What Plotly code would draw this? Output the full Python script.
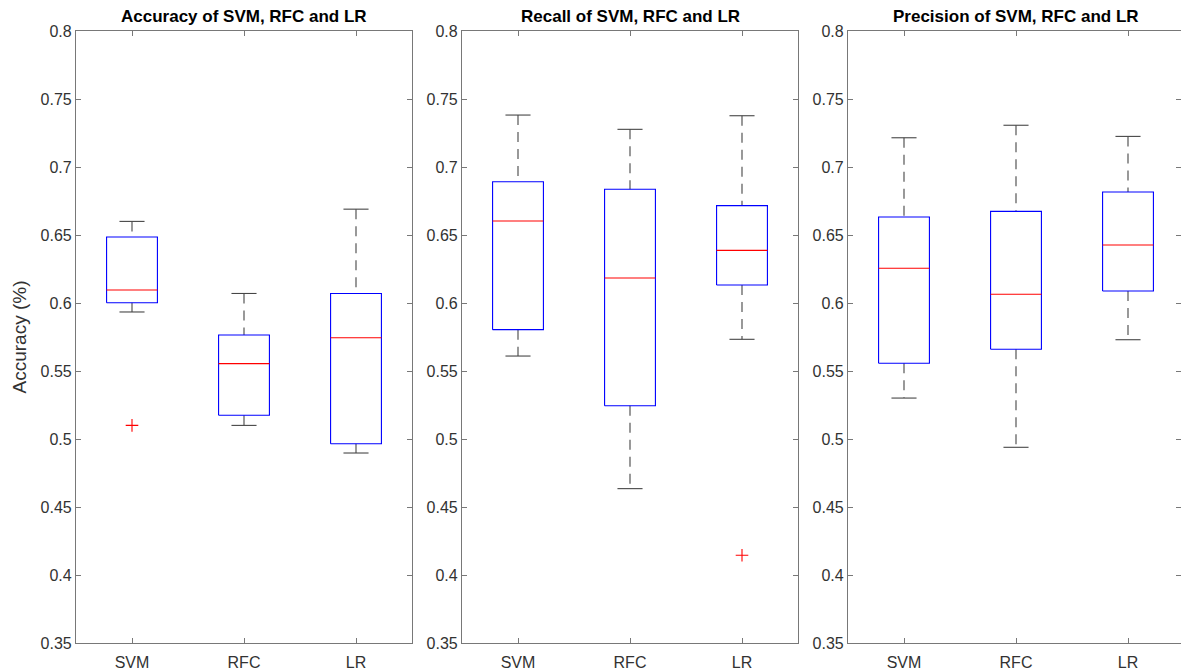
import plotly.graph_objects as go

# ---------------- data ----------------
categories = ["SVM", "RFC", "LR"]
titles = ["Accuracy of SVM, RFC and LR",
          "Recall of SVM, RFC and LR",
          "Precision of SVM, RFC and LR"]

# Accuracy panel
acc_upper = [0.660, 0.607, 0.669]
acc_q3 = [0.6485, 0.5765, 0.607]
acc_median = [0.6096, 0.5554, 0.5745]
acc_q1 = [0.6002, 0.5175, 0.4965]
acc_lower = [0.5934, 0.5100, 0.4897]
acc_outliers = [[0.5100], [], []]

# Recall panel
rec_upper = [0.7382, 0.7277, 0.7377]
rec_q3 = [0.6892, 0.6836, 0.6716]
rec_median = [0.6603, 0.6184, 0.6387]
rec_q1 = [0.5804, 0.5245, 0.6132]
rec_lower = [0.5610, 0.4635, 0.5733]
rec_outliers = [[], [], [0.4145]]

# Precision panel
pre_upper = [0.7215, 0.7307, 0.7225]
pre_q3 = [0.6632, 0.6674, 0.6816]
pre_median = [0.6255, 0.6064, 0.6426]
pre_q1 = [0.5557, 0.5660, 0.6088]
pre_lower = [0.5301, 0.4939, 0.5730]
pre_outliers = [[], [], []]

yticks = [0.35, 0.4, 0.45, 0.5, 0.55, 0.6, 0.65, 0.7, 0.75, 0.8]
yticklabels = ["0.35", "0.4", "0.45", "0.5", "0.55", "0.6", "0.65", "0.7", "0.75", "0.8"]
ylabel = "Accuracy (%)"

panels = [
    (acc_upper, acc_q3, acc_median, acc_q1, acc_lower, acc_outliers),
    (rec_upper, rec_q3, rec_median, rec_q1, rec_lower, rec_outliers),
    (pre_upper, pre_q3, pre_median, pre_q1, pre_lower, pre_outliers),
]

# ---------------- style ----------------
W, H = 1181, 670
BOX_HALF = 0.227
CAP_HALF = 0.112
BLUE = "rgb(0,0,255)"
RED = "rgb(255,0,0)"
WHISK = "rgb(70,70,70)"
AXC = "rgb(120,120,120)"
TXT = "rgb(50,50,50)"
FONT = "Liberation Sans, Arial, Helvetica, sans-serif"

# plot area pixel extents (left, right) per panel
px_left = [76, 462, 848]
px_right = [412, 798, 1181]
unit_px = 112.0
y_bottom_px, y_top_px = 643, 31
ydom = [(H - y_bottom_px) / H, (H - y_top_px) / H]

fig = go.Figure()

for p, (up, q3, med, q1, lo, outs) in enumerate(panels):
    sfx = "" if p == 0 else str(p + 1)
    xa, ya = "x" + sfx, "y" + sfx
    for i in range(len(categories)):
        xc = i + 1
        # whiskers (dashed)
        fig.add_trace(go.Scatter(
            x=[xc, xc, None, xc, xc], y=[up[i], q3[i], None, q1[i], lo[i]],
            mode="lines", line=dict(color=WHISK, width=1.1, dash="10px,7px"),
            xaxis=xa, yaxis=ya, showlegend=False, hoverinfo="skip"))
        # caps
        fig.add_trace(go.Scatter(
            x=[xc - CAP_HALF, xc + CAP_HALF, None, xc - CAP_HALF, xc + CAP_HALF],
            y=[up[i], up[i], None, lo[i], lo[i]],
            mode="lines", line=dict(color=WHISK, width=1.1),
            xaxis=xa, yaxis=ya, showlegend=False, hoverinfo="skip"))
        # box
        fig.add_trace(go.Scatter(
            x=[xc - BOX_HALF, xc + BOX_HALF, xc + BOX_HALF, xc - BOX_HALF, xc - BOX_HALF],
            y=[q1[i], q1[i], q3[i], q3[i], q1[i]],
            mode="lines", line=dict(color=BLUE, width=1.1),
            xaxis=xa, yaxis=ya, showlegend=False, hoverinfo="skip"))
        # median
        fig.add_trace(go.Scatter(
            x=[xc - BOX_HALF, xc + BOX_HALF], y=[med[i], med[i]],
            mode="lines", line=dict(color=RED, width=1.1),
            xaxis=xa, yaxis=ya, showlegend=False, hoverinfo="skip"))
        # outliers
        if outs[i]:
            fig.add_trace(go.Scatter(
                x=[xc] * len(outs[i]), y=outs[i], mode="markers",
                marker=dict(symbol="cross-thin", size=9, line=dict(color=RED, width=1.1)),
                xaxis=xa, yaxis=ya, showlegend=False, hoverinfo="skip"))

    # axes
    xr = [0.5, 0.5 + (px_right[p] - px_left[p]) / unit_px]
    fig.layout["xaxis" + sfx] = dict(
        domain=[px_left[p] / W, px_right[p] / W], range=xr, anchor=ya,
        tickvals=[1, 2, 3], ticktext=categories, ticks="inside", ticklen=5,
        tickcolor=AXC, showline=True, linecolor=AXC, linewidth=1.2, mirror="ticks",
        showgrid=False, zeroline=False, fixedrange=True, automargin=False,
        ticklabelstandoff=5,
        tickfont=dict(family=FONT, size=16, color=TXT))
    yax = dict(
        domain=ydom, range=[0.35, 0.8], anchor=xa,
        tickvals=yticks, ticktext=yticklabels, ticks="inside", ticklen=5,
        tickcolor=AXC, showline=True, linecolor=AXC, linewidth=1.2, mirror="ticks",
        showgrid=False, zeroline=False, fixedrange=True, automargin=False,
        tickfont=dict(family=FONT, size=16, color=TXT))
    if p == 0:
        yax["title"] = dict(text=ylabel, standoff=8,
                            font=dict(family=FONT, size=19, color=TXT))
    fig.layout["yaxis" + sfx] = yax

    fig.add_annotation(
        text="<b>" + titles[p] + "</b>", xref=xa, x=2, yref="paper",
        y=1 - 16.5 / H, yanchor="middle", xanchor="center", showarrow=False,
        font=dict(family=FONT, size=17, color="black"))

fig.update_layout(
    width=W, height=H, margin=dict(l=0, r=0, t=0, b=0, autoexpand=False),
    paper_bgcolor="white", plot_bgcolor="white", showlegend=False)

fig.write_html("out.html", config={"displayModeBar": False},
               post_script="document.body.style.margin='0';document.body.style.overflow='hidden';")
